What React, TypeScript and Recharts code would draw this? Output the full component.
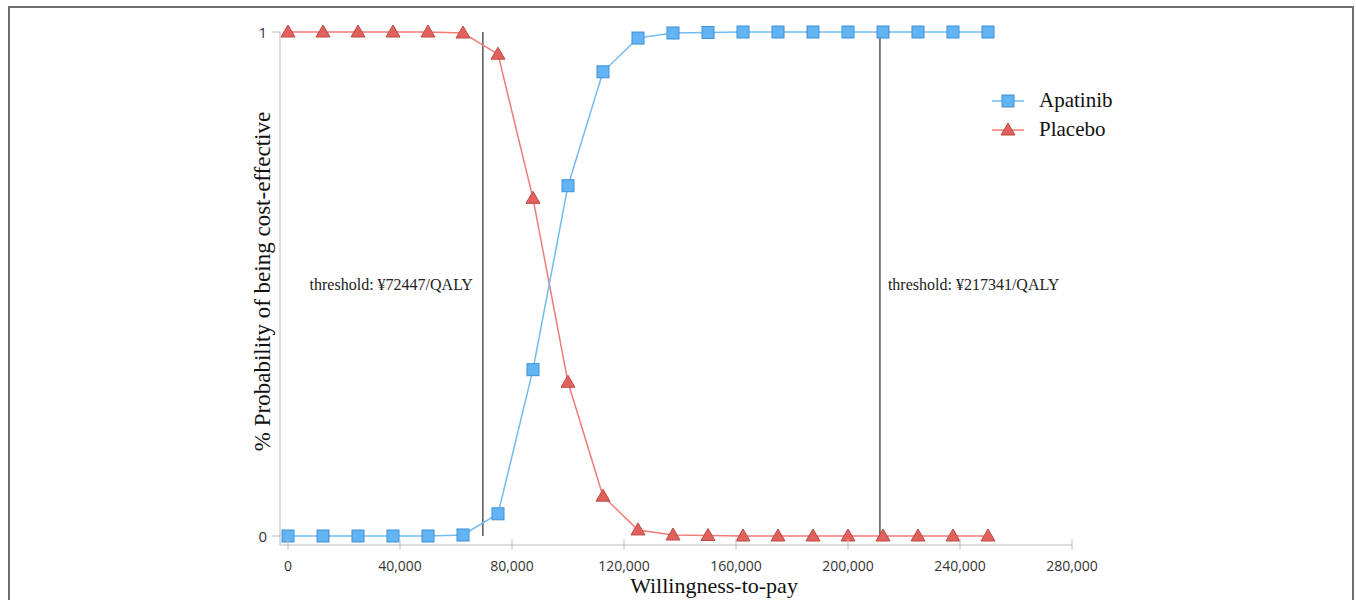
import { Line, LineChart, ReferenceLine, XAxis, YAxis } from "recharts";

// willingness-to-pay grid (CNY per QALY)
const wtp = [
  0, 12500, 25000, 37500, 50000, 62500, 75000, 87500, 100000, 112500, 125000,
  137500, 150000, 162500, 175000, 187500, 200000, 212500, 225000, 237500, 250000,
];
const apatinib = [
  0, 0, 0, 0, 0, 0.002, 0.044, 0.33, 0.695, 0.921, 0.988,
  0.998, 0.999, 1, 1, 1, 1, 1, 1, 1, 1,
];
const placebo = [
  1, 1, 1, 1, 1, 0.998, 0.956, 0.67, 0.305, 0.079, 0.012,
  0.002, 0.001, 0, 0, 0, 0, 0, 0, 0, 0,
];
const xTicks = [0, 40000, 80000, 120000, 160000, 200000, 240000, 280000];
const yTicks = [0, 1];
const thresholds = [
  { x: 69600, label: "threshold: ¥72447/QALY", side: "left" },
  { x: 211400, label: "threshold: ¥217341/QALY", side: "right" },
];

const rows = wtp.map((w, i) => ({ wtp: w, apatinib: apatinib[i], placebo: placebo[i] }));

const BLUE_LINE = "#72bbf2";
const BLUE_FILL = "#62b4f5";
const BLUE_EDGE = "#3e8fd4";
const RED_LINE = "#f07a76";
const RED_FILL = "#e4605c";
const RED_EDGE = "#b94a45";
const AXIS = "#bdbdbd";
const SERIF = "'Liberation Serif', 'Times New Roman', serif";
const SANS = "'Open Sans', 'Noto Sans', sans-serif";

const Square = (props: any) => {
  const { cx, cy, index } = props;
  if (cx == null || cy == null) return <g key={`sq-${index}`} />;
  return (
    <rect key={`sq-${index}`} x={cx - 6} y={cy - 6} width={12} height={12} fill={BLUE_FILL} stroke={BLUE_EDGE} strokeWidth={1} />
  );
};

const Triangle = (props: any) => {
  const { cx, cy, index } = props;
  if (cx == null || cy == null) return <g key={`tr-${index}`} />;
  return (
    <path
      key={`tr-${index}`}
      d={`M${cx},${cy - 7} L${cx + 7},${cy + 5} L${cx - 7},${cy + 5} Z`}
      fill={RED_FILL}
      stroke={RED_EDGE}
      strokeWidth={1}
    />
  );
};

const XTick = (props: any) => {
  const { x, y, payload } = props;
  return (
    <g>
      <line x1={x} x2={x} y1={y - 6} y2={y + 5} stroke={AXIS} strokeWidth={1} />
      <text x={x} y={y + 20} textAnchor="middle" dominantBaseline="central" fill="#333" fontSize={14} fontFamily={SANS}>
        {payload.value.toLocaleString("en-US")}
      </text>
    </g>
  );
};

const YTick = (props: any) => {
  const { x, y, payload } = props;
  return (
    <text x={x} y={y} textAnchor="end" dominantBaseline="central" fill="#333" fontSize={15} fontFamily={SANS}>
      {payload.value}
    </text>
  );
};

const ThresholdLabel = ({ viewBox, text, side }: any) => {
  if (!viewBox) return null;
  const midY = viewBox.y + viewBox.height / 2;
  return (
    <text
      x={side === "left" ? viewBox.x - 10 : viewBox.x + 8}
      y={midY}
      textAnchor={side === "left" ? "end" : "start"}
      dominantBaseline="central"
      fill="#222"
      fontSize={16}
      fontFamily={SERIF}
    >
      {text}
    </text>
  );
};

const LegendBox = () => (
  <div style={{ position: "absolute", left: 982, top: 78, fontFamily: SERIF, fontSize: 21, color: "#111" }}>
    {[
      { name: "Apatinib", line: BLUE_LINE, marker: "square" },
      { name: "Placebo", line: RED_LINE, marker: "triangle" },
    ].map((s) => (
      <div key={s.name} style={{ display: "flex", alignItems: "center", height: 29 }}>
        <svg width={32} height={16} style={{ marginRight: 15 }}>
          <line x1={0} x2={32} y1={8} y2={8} stroke={s.line} strokeWidth={1.5} />
          {s.marker === "square" ? (
            <rect x={10} y={2} width={12} height={12} fill={BLUE_FILL} stroke={BLUE_EDGE} />
          ) : (
            <path d="M16,1 L23,13 L9,13 Z" fill={RED_FILL} stroke={RED_EDGE} />
          )}
        </svg>
        <span>{s.name}</span>
      </div>
    ))}
  </div>
);

export default function App() {
  return (
    <div
      style={{
        position: "fixed",
        left: 8,
        top: 6,
        width: 1346,
        height: 600,
        border: "2px solid #6e6e6e",
        boxSizing: "border-box",
        background: "#fff",
      }}
    >
      <LineChart width={1342} height={594} data={rows} margin={{ top: 24, right: 280, bottom: 27, left: 210 }}>
        <XAxis
          dataKey="wtp"
          type="number"
          domain={[0, 280000]}
          ticks={xTicks}
          padding={{ left: 8, right: 0 }}
          stroke={AXIS}
          tickLine={false}
          tickSize={0}
          tickMargin={0}
          tick={<XTick />}
          height={30}
          label={{
            content: (p: any) => (
              <text
                x={p.viewBox.x + p.viewBox.width / 2 + 38}
                y={p.viewBox.y + 40}
                textAnchor="middle"
                dominantBaseline="central"
                fontSize={22}
                fontFamily={SERIF}
                fill="#111"
              >
                Willingness-to-pay
              </text>
            ),
          }}
        />
        <YAxis
          type="number"
          domain={[0, 1]}
          ticks={yTicks}
          padding={{ top: 0, bottom: 9 }}
          stroke={AXIS}
          tickSize={8}
          tickMargin={5}
          tick={<YTick />}
          width={60}
          label={{
            content: (p: any) => {
              const cx = p.viewBox.x + 42;
              const cy = p.viewBox.y + p.viewBox.height / 2 - 7;
              return (
                <text
                  x={cx}
                  y={cy}
                  transform={`rotate(-90 ${cx} ${cy})`}
                  textAnchor="middle"
                  dominantBaseline="central"
                  fontSize={23}
                  fontFamily={SERIF}
                  fill="#111"
                >
                  % Probability of being cost-effective
                </text>
              );
            },
          }}
        />
        {thresholds.map((t) => (
          <ReferenceLine
            key={t.x}
            segment={[
              { x: t.x, y: 0 },
              { x: t.x, y: 1 },
            ]}
            stroke="#555"
            strokeWidth={1.5}
            label={<ThresholdLabel text={t.label} side={t.side} />}
          />
        ))}
        <Line
          dataKey="placebo"
          stroke={RED_LINE}
          strokeWidth={1.5}
          dot={Triangle}
          isAnimationActive={false}
          type="linear"
        />
        <Line
          dataKey="apatinib"
          stroke={BLUE_LINE}
          strokeWidth={1.5}
          dot={Square}
          isAnimationActive={false}
          type="linear"
        />
      </LineChart>
      <LegendBox />
    </div>
  );
}
